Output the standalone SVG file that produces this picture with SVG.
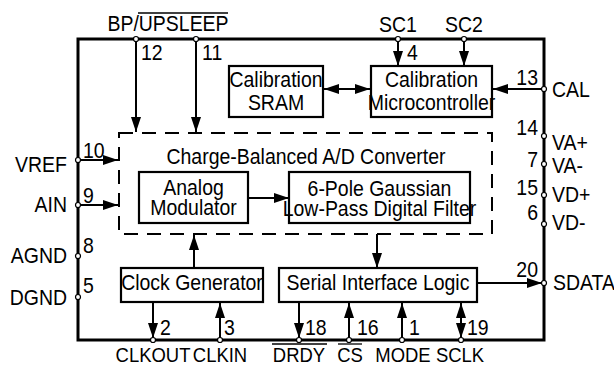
<svg xmlns="http://www.w3.org/2000/svg" width="614" height="366" viewBox="0 0 614 366">
<style>
text{font-family:"Liberation Sans",Arial,sans-serif;font-size:22px;fill:#000}
.m{text-anchor:middle}.e{text-anchor:end}
.b{font-size:20.5px}
.box{fill:#fff;stroke:#000;stroke-width:2.2}
.outer{fill:none;stroke:#000;stroke-width:3}
.dash{fill:none;stroke:#000;stroke-width:2;stroke-dasharray:14 9}
.w{fill:none;stroke:#000;stroke-width:2}
.a{marker-end:url(#ah)}
.d{marker-end:url(#ah);marker-start:url(#ah)}
.pin{fill:#fff;stroke:#000;stroke-width:1.2}
.ol{stroke:#000;stroke-width:1.3}
</style>
<defs>
<marker id="ah" markerUnits="userSpaceOnUse" markerWidth="16" markerHeight="10" refX="15" refY="5" orient="auto-start-reverse" viewBox="0 0 16 10">
<path d="M0,0 L15,5 L0,10 z" fill="#000"/>
</marker>
</defs>
<rect class="outer" x="78" y="39" width="466" height="301"/>
<g id="adc">
<rect class="dash" x="119" y="133" width="373" height="101"/>
<text class="m" transform="translate(306 164) scale(0.885 1)">Charge-Balanced A/D Converter</text>
</g>
<g id="sram">
<rect class="box" x="229" y="66" width="94" height="51"/>
<text class="m" transform="translate(276 87) scale(0.885 1)">Calibration</text>
<text class="m" transform="translate(276 110) scale(0.885 1)">SRAM</text>
</g>
<g id="micro">
<rect class="box" x="371" y="66" width="121" height="51"/>
<text class="m" transform="translate(431.5 87) scale(0.885 1)">Calibration</text>
<text class="m" transform="translate(431.5 110) scale(0.885 1)">Microcontroller</text>
</g>
<g id="modulator">
<rect class="box" x="139" y="172" width="109" height="51"/>
<text class="m" transform="translate(193.5 195) scale(0.885 1)">Analog</text>
<text class="m" transform="translate(193.5 215) scale(0.885 1)">Modulator</text>
</g>
<g id="filter">
<rect class="box" x="289" y="172" width="181" height="51"/>
<text class="m" transform="translate(379.5 196) scale(0.885 1)">6-Pole Gaussian</text>
<text class="m" transform="translate(379.5 216) scale(0.885 1)">Low-Pass Digital Filter</text>
</g>
<g id="clock">
<rect class="box" x="121" y="268" width="142" height="34"/>
<text class="m" transform="translate(192 290) scale(0.885 1)">Clock Generator</text>
</g>
<g id="serial">
<rect class="box" x="279" y="268" width="198" height="34"/>
<text class="m" transform="translate(378 290) scale(0.885 1)">Serial Interface Logic</text>
</g>
<g id="connectors">
<line class="w a" x1="136" y1="41" x2="136" y2="132"/>
<line class="w a" x1="196" y1="41" x2="196" y2="132"/>
<line class="w a" x1="398" y1="41" x2="398" y2="66"/>
<line class="w a" x1="464" y1="41" x2="464" y2="66"/>
<line class="w d" x1="324" y1="89" x2="370" y2="89"/>
<line class="w a" x1="542" y1="89" x2="493" y2="89"/>
<line class="w a" x1="80" y1="160" x2="118" y2="160"/>
<line class="w a" x1="80" y1="205" x2="118" y2="205"/>
<line class="w a" x1="249" y1="198" x2="289" y2="198"/>
<line class="w a" x1="377" y1="234" x2="377" y2="268"/>
<line class="w a" x1="194" y1="268" x2="194" y2="235"/>
<line class="w a" x1="153" y1="303" x2="153" y2="338"/>
<line class="w a" x1="220" y1="338" x2="220" y2="303"/>
<line class="w a" x1="299" y1="303" x2="299" y2="338"/>
<line class="w a" x1="349" y1="338" x2="349" y2="303"/>
<line class="w a" x1="402" y1="338" x2="402" y2="303"/>
<line class="w d" x1="461" y1="303" x2="461" y2="338"/>
<line class="w a" x1="478" y1="283" x2="542" y2="283"/>
</g>
<g id="pins">
<circle class="pin" cx="136" cy="39" r="2.5"/>
<circle class="pin" cx="196" cy="39" r="2.5"/>
<circle class="pin" cx="398" cy="39" r="2.5"/>
<circle class="pin" cx="464" cy="39" r="2.5"/>
<circle class="pin" cx="78" cy="160" r="2.5"/>
<circle class="pin" cx="78" cy="205" r="2.5"/>
<circle class="pin" cx="78" cy="256" r="2.5"/>
<circle class="pin" cx="78" cy="297" r="2.5"/>
<circle class="pin" cx="544" cy="89" r="2.5"/>
<circle class="pin" cx="544" cy="136" r="2.5"/>
<circle class="pin" cx="544" cy="164" r="2.5"/>
<circle class="pin" cx="544" cy="195" r="2.5"/>
<circle class="pin" cx="544" cy="224" r="2.5"/>
<circle class="pin" cx="544" cy="283" r="2.5"/>
<circle class="pin" cx="153" cy="340" r="2.5"/>
<circle class="pin" cx="220" cy="340" r="2.5"/>
<circle class="pin" cx="299" cy="340" r="2.5"/>
<circle class="pin" cx="349" cy="340" r="2.5"/>
<circle class="pin" cx="402" cy="340" r="2.5"/>
<circle class="pin" cx="461" cy="340" r="2.5"/>
</g>
<g id="labels">
<text class="m" transform="translate(168 31) scale(0.885 1)">BP/UPSLEEP</text>
<line class="ol" x1="138" y1="13" x2="228" y2="13"/>
<text class="m" transform="translate(398 32) scale(0.885 1)">SC1</text>
<text class="m" transform="translate(464 32) scale(0.885 1)">SC2</text>
<text transform="translate(141 60) scale(0.885 1)">12</text>
<text transform="translate(202 60) scale(0.885 1)">11</text>
<text transform="translate(407 60) scale(0.885 1)">4</text>
<text class="e" transform="translate(538 85) scale(0.885 1)">13</text>
<text class="e" transform="translate(538 135) scale(0.885 1)">14</text>
<text class="e" transform="translate(538 167) scale(0.885 1)">7</text>
<text class="e" transform="translate(538 195) scale(0.885 1)">15</text>
<text class="e" transform="translate(538 220) scale(0.885 1)">6</text>
<text class="e" transform="translate(538 277) scale(0.885 1)">20</text>
<text transform="translate(552 97) scale(0.885 1)">CAL</text>
<text transform="translate(552 150) scale(0.885 1)">VA+</text>
<text transform="translate(552 173) scale(0.885 1)">VA-</text>
<text transform="translate(552 202) scale(0.885 1)">VD+</text>
<text transform="translate(552 230) scale(0.885 1)">VD-</text>
<text transform="translate(553 290) scale(0.885 1)">SDATA</text>
<text transform="translate(83 158) scale(0.885 1)">10</text>
<text transform="translate(83 203) scale(0.885 1)">9</text>
<text transform="translate(83 253) scale(0.885 1)">8</text>
<text transform="translate(83 293) scale(0.885 1)">5</text>
<text class="e" transform="translate(67 172) scale(0.885 1)">VREF</text>
<text class="e" transform="translate(67 212) scale(0.885 1)">AIN</text>
<text class="e" transform="translate(67 263) scale(0.885 1)">AGND</text>
<text class="e" transform="translate(67 305) scale(0.885 1)">DGND</text>
<text transform="translate(160 335) scale(0.885 1)">2</text>
<text transform="translate(224 335) scale(0.885 1)">3</text>
<text transform="translate(305 335) scale(0.885 1)">18</text>
<text transform="translate(357 335) scale(0.885 1)">16</text>
<text transform="translate(409 335) scale(0.885 1)">1</text>
<text transform="translate(467 335) scale(0.885 1)">19</text>
<text class="m b" transform="translate(153 362) scale(0.9 1)">CLKOUT</text>
<text class="m b" transform="translate(220 362) scale(0.9 1)">CLKIN</text>
<text class="m b" transform="translate(299 362) scale(0.9 1)">DRDY</text>
<line class="ol" x1="272" y1="344" x2="327" y2="344"/>
<text class="m b" transform="translate(350 362) scale(0.9 1)">CS</text>
<line class="ol" x1="338" y1="344" x2="362" y2="344"/>
<text class="m b" transform="translate(403 362) scale(0.9 1)">MODE</text>
<text class="m b" transform="translate(460 362) scale(0.9 1)">SCLK</text>
</g>
</svg>
